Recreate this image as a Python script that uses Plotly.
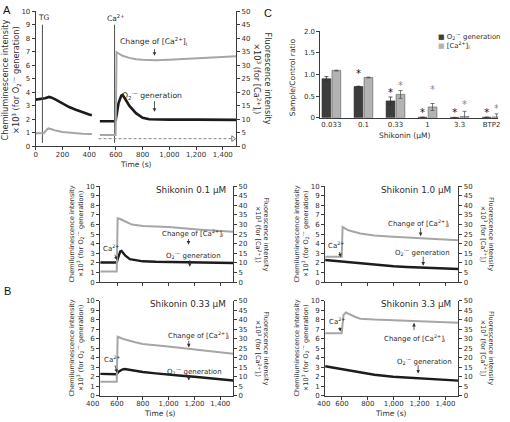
import plotly.graph_objects as go

W, H = 510, 422
FONT = "DejaVu Sans"
DARK = "#1c1c1c"
GRAY = "#a6a6a6"
AX = "#3c3c3c"
TXT = "#2e2e2e"

# ---------------- Panel A data ----------------
a_t1 = [0, 30, 50, 70, 100, 120, 150, 200, 250, 300, 350, 400, 420]
a_o2_1 = [3.45, 3.5, 3.5, 3.55, 3.65, 3.6, 3.45, 3.15, 2.9, 2.7, 2.5, 2.35, 2.3]
a_tc1 = [0, 60, 80, 95, 120, 150, 200, 250, 300, 350, 420]
a_ca_1 = [4.8, 4.8, 6.0, 6.6, 6.3, 5.8, 5.3, 5.0, 4.8, 4.6, 4.5]
a_t2 = [480, 595, 600, 610, 620, 640, 650, 670, 700, 750, 800, 850, 900, 1000, 1200, 1400, 1500]
a_o2_2 = [1.85, 1.85, 2.0, 2.6, 3.2, 3.75, 3.8, 3.5, 3.0, 2.45, 2.1, 2.0, 1.98, 1.97, 1.97, 1.95, 1.95]
a_tc2 = [480, 598, 605, 620, 650, 700, 750, 800, 900, 1000, 1100, 1200, 1300, 1400, 1500]
a_ca_2 = [4.2, 4.2, 34.8, 34.4, 33.5, 32.7, 32.2, 32.0, 31.8, 32.0, 32.3, 32.6, 32.9, 33.1, 33.3]
a_events = [50, 590]
a_event_labels = ["TG", "Ca<sup>2+</sup>"]
a_dash_t = [470, 1477]
a_dash_v = [0.56, 0.56]

# ---------------- Panel B data ----------------
b01_t_o2 = [470, 598, 605, 615, 625, 635, 645, 665, 700, 750, 800, 900, 1000, 1200, 1400, 1500]
b01_o2 = [2.05, 2.05, 2.4, 2.9, 3.2, 3.25, 3.1, 2.75, 2.4, 2.25, 2.17, 2.12, 2.1, 2.05, 2.02, 2.0]
b01_t_ca = [470, 598, 605, 620, 665, 716, 800, 1000, 1250, 1500]
b01_ca = [5.5, 5.5, 33.3, 33.0, 31.6, 30.0, 29.3, 28.7, 27.3, 26.2]

b033_t_o2 = [470, 598, 610, 640, 660, 700, 800, 900, 1000, 1100, 1200, 1300, 1400, 1500]
b033_o2 = [2.3, 2.25, 2.5, 2.75, 2.8, 2.7, 2.5, 2.35, 2.2, 2.1, 2.0, 1.85, 1.75, 1.6]
b033_t_ca = [470, 598, 605, 650, 741, 800, 995, 1249, 1500]
b033_ca = [7.4, 7.4, 31.0, 29.8, 28.1, 27.2, 25.9, 23.8, 22.0]

b1_t_o2 = [470, 550, 600, 700, 800, 900, 1000, 1100, 1200, 1300, 1400, 1500]
b1_o2 = [2.3, 2.2, 2.1, 2.0, 1.85, 1.72, 1.66, 1.58, 1.52, 1.46, 1.41, 1.37]
b1_t_ca = [470, 598, 605, 650, 741, 850, 995, 1249, 1500]
b1_ca = [13.2, 13.2, 28.7, 27.0, 25.3, 24.3, 23.6, 22.5, 21.8]

b33_t_o2 = [470, 614, 741, 850, 995, 1249, 1500]
b33_o2 = [3.1, 2.76, 2.41, 2.2, 2.0, 1.79, 1.59]
b33_t_ca = [470, 598, 612, 630, 700, 741, 850, 995, 1249, 1500]
b33_ca = [32.8, 32.8, 42.5, 43.7, 41.5, 40.5, 40.0, 39.7, 39.3, 38.4]

b_titles = ["Shikonin 0.1 μM", "Shikonin 0.33 μM", "Shikonin 1.0 μM", "Shikonin 3.3 μM"]
b_xticks = [600, 800, 1000, 1200, 1400]
b_first_label = "400"

# ---------------- Panel C data ----------------
c_cats = ["0.033", "0.1", "0.33", "1", "3.3", "BTP2"]
c_pos = [0, 1, 2, 3, 4, 5]
c_o2 = [0.90, 0.72, 0.39, 0.012, 0.008, 0.012]
c_o2_err = [0.05, 0.01, 0.09, 0.0, 0.0, 0.0]
c_ca = [1.09, 0.93, 0.54, 0.25, 0.03, 0.02]
c_ca_err = [0.01, 0.01, 0.09, 0.08, 0.12, 0.07]
c_o2_star = [None, 1.0, 0.57, 0.11, 0.11, 0.11]
c_ca_star = [None, None, 0.72, 0.64, 0.28, 0.19]
c_yticks = [0, 0.5, 1.0, 1.5, 2.0]
c_yticktext = ["0", "0.5", "1.0", "1.5", "2.0"]


def fx(p):
    return p / W


def fy(p):
    return 1 - p / H


fig = go.Figure()

common = dict(showgrid=False, zeroline=False, showline=True, linecolor=AX, linewidth=1,
              ticks="outside", ticklen=3, tickwidth=1, tickcolor=AX,
              tickfont=dict(family=FONT, size=7, color=TXT))

layout = {}


def add_ts_axes(xi, yi, y2i, xdom, ydom, xrange, tickvals, showlabels):
    xk = "xaxis" if xi == 1 else f"xaxis{xi}"
    yk = "yaxis" if yi == 1 else f"yaxis{yi}"
    y2k = f"yaxis{y2i}"
    xr = "x" if xi == 1 else f"x{xi}"
    yr = "y" if yi == 1 else f"y{yi}"
    layout[xk] = dict(common, domain=[fx(xdom[0]), fx(xdom[1])], range=xrange, anchor=yr,
                      tickvals=tickvals, tickformat=",", showticklabels=showlabels,
                      ticklabelstandoff=-2)
    layout[yk] = dict(common, domain=[fy(ydom[0]), fy(ydom[1])], range=[0, 10],
                      dtick=1, tick0=0, anchor=xr)
    layout[y2k] = dict(common, range=[0, 50], dtick=5, tick0=0, overlaying=yr,
                       side="right", anchor=xr)
    return xr, yr, f"y{y2i}"


# Panel A
axA = add_ts_axes(1, 1, 2, (34, 236), (145, 7.3), [0, 1500],
                  [0, 200, 400, 600, 800, 1000, 1200, 1400], True)
# Panel B
BX = [470, 1500]
axB01 = add_ts_axes(3, 4, 5, (99, 233), (283.5, 185.7), BX, b_xticks, False)
axB033 = add_ts_axes(4, 6, 7, (99, 233), (399.3, 302.3), BX, b_xticks, True)
axB1 = add_ts_axes(5, 8, 9, (325.7, 460), (283.5, 185.7), BX, b_xticks, False)
axB33 = add_ts_axes(6, 10, 11, (325.7, 460), (399.3, 302.3), BX, b_xticks, True)

# Panel C axes
layout["xaxis2"] = dict(common, domain=[fx(321), fx(500)], range=[-0.34, 5.2], anchor="y3",
                        tickvals=c_pos, ticktext=c_cats, ticks="")
layout["yaxis3"] = dict(common, domain=[fy(116), fy(27.7)], range=[0, 2], anchor="x2",
                        tickvals=c_yticks, ticktext=c_yticktext)


def line(x, y, xr, yr, color, width):
    fig.add_trace(go.Scatter(x=x, y=y, xaxis=xr, yaxis=yr, mode="lines",
                             line=dict(color=color, width=width), hoverinfo="skip"))


# Panel A traces
xr, yr, y2r = axA
line(a_tc1, a_ca_1, xr, y2r, GRAY, 2)
line(a_tc2, a_ca_2, xr, y2r, GRAY, 2)
line(a_t1, a_o2_1, xr, yr, DARK, 2.6)
line(a_t2, a_o2_2, xr, yr, DARK, 2.6)
for t in a_events:
    line([t, t], [0.25, 9.0], xr, yr, "#505050", 1)
fig.add_trace(go.Scatter(x=a_dash_t, y=a_dash_v, xaxis=xr, yaxis=yr, mode="lines",
                         line=dict(color="#888888", width=1, dash="3px,2px"), hoverinfo="skip"))
fig.add_trace(go.Scatter(x=[a_dash_t[1]], y=[a_dash_v[1]], xaxis=xr, yaxis=yr, mode="markers",
                         marker=dict(symbol="triangle-right-open", size=5,
                                     color="#777777", line=dict(width=1, color="#777777")),
                         hoverinfo="skip"))

# Panel B traces
for ax, t_o2, o2, t_ca, ca in [
    (axB01, b01_t_o2, b01_o2, b01_t_ca, b01_ca),
    (axB033, b033_t_o2, b033_o2, b033_t_ca, b033_ca),
    (axB1, b1_t_o2, b1_o2, b1_t_ca, b1_ca),
    (axB33, b33_t_o2, b33_o2, b33_t_ca, b33_ca),
]:
    xr, yr, y2r = ax
    line(t_ca, ca, xr, y2r, GRAY, 2)
    line(t_o2, o2, xr, yr, DARK, 2.4)

# Panel C bars
fig.add_trace(go.Bar(x=c_pos, y=c_o2, xaxis="x2", yaxis="y3", marker=dict(color="#3d3d3d",
                     line=dict(color="#222222", width=0.6)),
                     error_y=dict(type="data", array=c_o2_err, color="#333333", thickness=0.8, width=2),
                     hoverinfo="skip"))
fig.add_trace(go.Bar(x=c_pos, y=c_ca, xaxis="x2", yaxis="y3", marker=dict(color="#b3b3b3",
                     line=dict(color="#555555", width=0.6)),
                     error_y=dict(type="data", array=c_ca_err, color="#555555", thickness=0.8, width=2),
                     hoverinfo="skip"))
BG = 0.38
off = (1 - BG) / 4
fig.add_trace(go.Scatter(x=[p - off for p in c_pos], y=c_o2_star, xaxis="x2", yaxis="y3",
                         mode="text", text=["*"] * 6, textposition="middle center",
                         textfont=dict(family=FONT, size=10, color="#111111"), hoverinfo="skip"))
fig.add_trace(go.Scatter(x=[p + off for p in c_pos], y=c_ca_star, xaxis="x2", yaxis="y3",
                         mode="text", text=["*"] * 6, textposition="middle center",
                         textfont=dict(family=FONT, size=10, color="#8a8a8a"), hoverinfo="skip"))

ann = []


def text(x, y, s, size=7.5, xref="paper", yref="paper", angle=0, xanchor="center",
         yanchor="middle", family=FONT, color=TXT):
    ann.append(dict(x=x, y=y, xref=xref, yref=yref, text=s, showarrow=False, textangle=angle,
                    xanchor=xanchor, yanchor=yanchor,
                    font=dict(family=family, size=size, color=color)))


def arrow(x, y, ax_, ay_, xref, yref):
    ann.append(dict(x=x, y=y, ax=ax_, ay=ay_, xref=xref, yref=yref, axref=xref, ayref=yref,
                    text="", showarrow=True, arrowhead=2, arrowsize=0.9, arrowwidth=0.8,
                    arrowcolor="#333333"))


O2 = "O<sub>2</sub><sup>·−</sup>"
CA = "[Ca<sup>2+</sup>]<sub>i</sub>"
LTITLE = "Chemiluminescence intensity<br>×10<sup>3</sup> (for " + O2 + " generation)"
RTITLE = "Fluorescence intensity<br>×10<sup>3</sup> (for " + CA + ")"

# Panel letters
text(fx(5), fy(6), "A", size=11, family="Liberation Sans", color="#111111")
text(fx(268), fy(9), "C", size=11, family="Liberation Sans", color="#111111")
text(fx(6), fy(293), "B", size=11, family="Liberation Sans", color="#111111")

# Panel A texts
text(fx(9), fy(77), LTITLE, size=8.2, angle=-90)
text(fx(262), fy(76), RTITLE, size=8.2, angle=90)
text(fx(135), fy(163.5), "Time (s)", size=7.5)
for t, lab in zip(a_events, a_event_labels):
    text(t + 12, 9.5, lab, size=7.5, xref="x", yref="y")
text(881, 7.77, "Change of " + CA, size=7.7, xref="x", yref="y")
arrow(889, 6.7, 889, 7.3, "x", "y")
text(870, 3.78, O2 + " generation", size=7.7, xref="x", yref="y")
arrow(889, 2.55, 889, 3.45, "x", "y")

# Panel B texts
b_specs = [
    (axB01, (99, 233), (283.5, 185.7), b_titles[0]),
    (axB033, (99, 233), (399.3, 302.3), b_titles[1]),
    (axB1, (325.7, 460), (283.5, 185.7), b_titles[2]),
    (axB33, (325.7, 460), (399.3, 302.3), b_titles[3]),
]
for (xr, yr, y2r), xd, yd, title in b_specs:
    cy = (yd[0] + yd[1]) / 2
    text(fx(xd[0] - 24), fy(cy), LTITLE, size=6.6, angle=-90)
    text(fx(xd[1] + 29), fy(cy), RTITLE, size=6.6, angle=90)
    text(fx(xd[1] - 5), fy(yd[1] + 3.5), title, size=8.8, xanchor="right")

# Ca2+ arrows in B  (text x, text y, tip x, tip y)
for (xr, yr, y2r), tx, tv, tipx, tipv in [
    (axB01, 557, 3.55, 600, 2.3),
    (axB033, 560, 3.9, 600, 2.4),
    (axB1, 557, 3.85, 590, 2.6),
    (axB33, 559, 7.9, 588, 6.75),
]:
    text(tx, tv, "Ca<sup>2+</sup>", size=7, xref=xr, yref=yr)
    arrow(tipx, tipv, tx + 22, tv - 0.55, xr, yr)

# Change / O2 labels in B
for (xr, yr, y2r), ctx, ctv, cax, cav0, cav1, otx, otv, oax, oav0, oav1 in [
    (axB01, 1185, 5.15, 1154, 4.65, 3.9, 1192, 2.81, 1164, 2.47, 1.6),
    (axB033, 1231, 6.35, 1156, 5.94, 5.08, 1200, 2.61, 1156, 2.33, 1.6),
    (axB1, 1189, 6.16, 1208, 5.81, 4.79, 1226, 3.19, 1228, 2.81, 1.71),
    (axB33, 1162, 6.04, 1157, 6.73, 7.66, 1239, 3.64, 1189, 3.36, 2.33),
]:
    text(ctx, ctv, "Change of " + CA, size=7, xref=xr, yref=yr)
    arrow(cax, cav1, cax, cav0, xr, yr)
    text(otx, otv, O2 + " generation", size=7, xref=xr, yref=yr)
    arrow(oax, oav1, oax, oav0, xr, yr)

# "400" label at the left end of the bottom B axes, and Time titles
for px in (91, 324):
    ann.append(dict(x=fx(px), y=fy(399.3), xref="paper", yref="paper", text=b_first_label,
                    showarrow=False, xanchor="center", yanchor="top", yshift=-2,
                    font=dict(family=FONT, size=7, color=TXT)))
text(fx(159), fy(417), "Time (s)", size=7.5)
text(fx(392), fy(417), "Time (s)", size=7.5)

# Panel C texts
text(fx(293), fy(75), "Sample/Control ratio", size=7.5, angle=-90)
text(fx(406), fy(134), "Shikonin (μM)", size=7.5)
text(fx(437), fy(33.3), '<span style="color:#3d3d3d">■</span> ' + O2 + " generation", size=6.9,
     xanchor="left")
text(fx(437), fy(42.7), '<span style="color:#b3b3b3">■</span> ' + CA, size=6.9, xanchor="left")

fig.update_layout(
    width=W, height=H, margin=dict(l=0, r=0, t=0, b=0),
    paper_bgcolor="white", plot_bgcolor="white", showlegend=False,
    barmode="group", bargap=BG, bargroupgap=0.12,
    font=dict(family=FONT, size=7, color=TXT),
    annotations=ann, **layout,
)

fig.write_html("out.html", config={"displayModeBar": False},
               post_script="document.body.style.margin='0';document.body.style.overflow='hidden';")
